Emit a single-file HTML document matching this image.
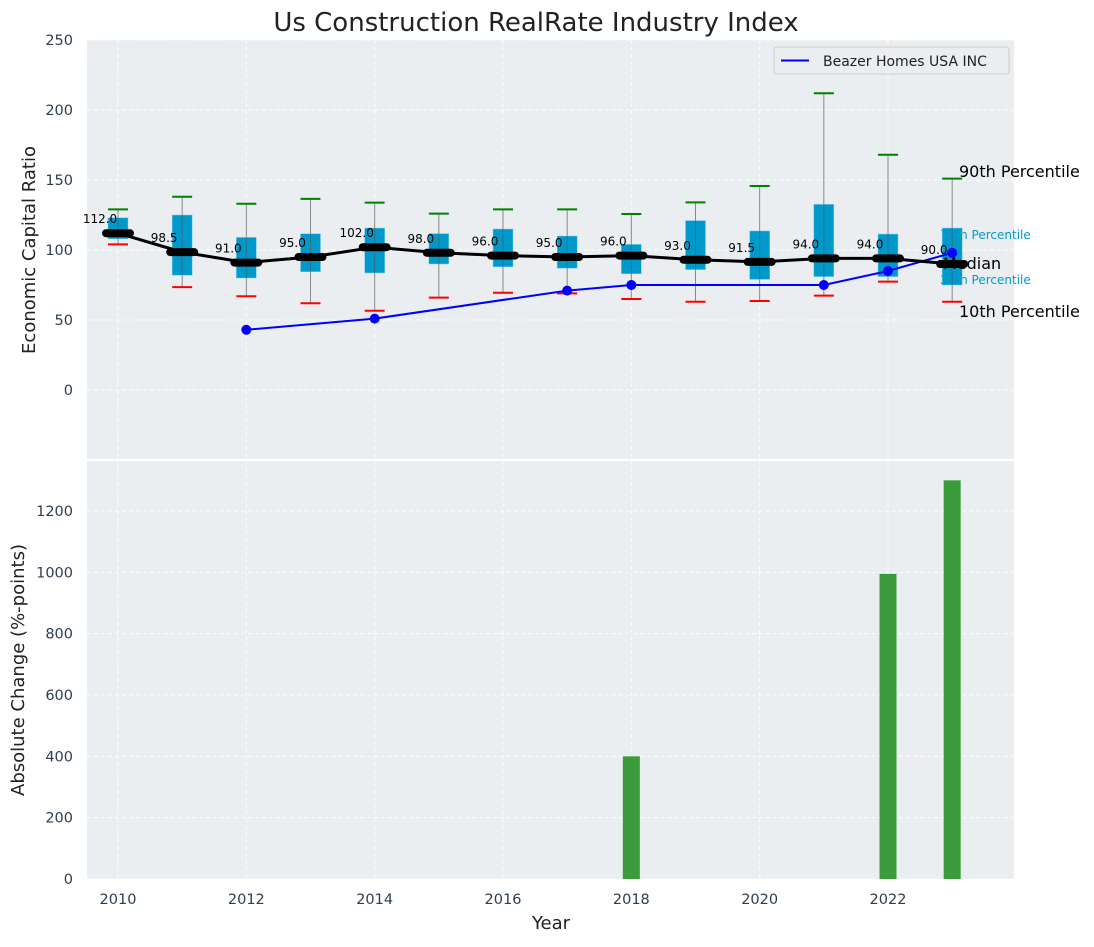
<!DOCTYPE html>
<html><head><meta charset="utf-8"><style>
body{margin:0;background:#fff;font-family:"Liberation Sans","DejaVu Sans",sans-serif}
svg text{font-family:"DejaVu Sans","Liberation Sans",sans-serif}
</style></head><body>
<svg id="c" width="1094" height="942" xmlns="http://www.w3.org/2000/svg"></svg>
<script>
const years=[2010,2011,2012,2013,2014,2015,2016,2017,2018,2019,2020,2021,2022,2023];
const medians=[112,98.5,91,95,102,98,96,95,96,93,91.5,94,94,90];
const q3=[123,125,109,111.6,115.7,111.7,115,110,104,121,113.6,132.6,111.4,115.7];
const q1=[108,82,80,84.5,83.6,90,88,87,83,86,79,81,81,75];
const p90=[129,138,133,136.5,133.8,126,129,129,125.7,134,145.7,212,168,151];
const p10=[104,73.5,67,62,56.6,66,69.5,69,65,63,63.6,67.4,77.4,63];
const compYears=[2012,2014,2017,2018,2021,2022,2023];
const compVals=[43,51,71,75,75,85,98];
const barYears=[2018,2022,2023];
const barVals=[400,995,1300];
const xTicks=[2010,2012,2014,2016,2018,2020,2022];
const yTicksTop=[0,50,100,150,200,250];
const yTicksBot=[0,200,400,600,800,1000,1200];

const NS="http://www.w3.org/2000/svg",svg=document.getElementById('c');
function el(t,a,p){const e=document.createElementNS(NS,t);for(const k in a)e.setAttribute(k,a[k]);(p||svg).appendChild(e);return e;}
function tx(s,a,p){const e=el('text',a,p);e.textContent=s;return e;}
const L=87,R=1014,T1=40,B1=459,T2=461,B2=879;
const x=v=>118+(v-2010)*(888-118)/12;
const y1=v=>390-1.4*v;
const y2=v=>879-v*(368/1200);

let g=el('rect',{x:L,y:T1,width:R-L,height:B1-T1,fill:'#eaeef0'});

g=el('rect',{x:L,y:T2,width:R-L,height:B2-T2,fill:'#eaeef0'});


const grid=el('g',{stroke:'#fff','stroke-dasharray':'4,3','stroke-width':1,opacity:0.9});

xTicks.forEach(t=>{el('line',{x1:x(t),x2:x(t),y1:T1,y2:B1},grid);el('line',{x1:x(t),x2:x(t),y1:T2,y2:B2},grid);});
yTicksTop.forEach(t=>el('line',{x1:L,x2:R,y1:y1(t),y2:y1(t)},grid));
yTicksBot.forEach(t=>el('line',{x1:L,x2:R,y1:y2(t),y2:y2(t)},grid));

const ax=el('g',{fill:'#2c3e50','font-size':14.5});

yTicksTop.forEach(t=>tx(t,{x:73,y:y1(t)+5,'text-anchor':'end'},ax));
yTicksBot.forEach(t=>tx(t,{x:73,y:y2(t)+5,'text-anchor':'end'},ax));
xTicks.forEach(t=>tx(t,{x:x(t),y:904,'text-anchor':'middle'},ax));

const xl=x(2023);
let t;
t=tx('75th Percentile',{x:xl-12,y:y1(q3[13])+11,fill:'#0099cc','font-size':12});
t=tx('25th Percentile',{x:xl-12,y:y1(q1[13])-1,fill:'#0099cc','font-size':12});

const bx=el('g',{});
years.forEach((yr,i)=>{
  const cx=x(yr);
  const w=el('line',{x1:cx,x2:cx,y1:y1(p90[i]),y2:y1(p10[i]),stroke:'#888','stroke-width':1},bx);
  
  const b=el('rect',{x:cx-10,y:y1(q3[i]),width:20,height:y1(q1[i])-y1(q3[i]),fill:'#0099cc',stroke:'#7fcbe5','stroke-width':0.5},bx);
  
  el('line',{x1:cx,x2:cx,y1:y1(q3[i]),y2:y1(q1[i]),stroke:'#555','stroke-width':1,opacity:0.6},bx);
  const h=el('line',{x1:cx-10,x2:cx+10,y1:y1(p90[i]),y2:y1(p90[i]),stroke:'green','stroke-width':2},bx);
  
  const l=el('line',{x1:cx-10,x2:cx+10,y1:y1(p10[i]),y2:y1(p10[i]),stroke:'red','stroke-width':2},bx);
  
});

const cl=el('polyline',{points:compYears.map((yr,i)=>x(yr)+','+y1(compVals[i])).join(' '),fill:'none',stroke:'blue','stroke-width':2});

compYears.forEach((yr,i)=>{const c=el('circle',{cx:x(yr),cy:y1(compVals[i]),r:5,fill:'blue'});
});

const ml=el('polyline',{points:years.map((yr,i)=>x(yr)+','+y1(medians[i])).join(' '),fill:'none',stroke:'#000','stroke-width':3});

const mg=el('g',{});
years.forEach((yr,i)=>{
  el('line',{x1:x(yr)-12,x2:x(yr)+12,y1:y1(medians[i]),y2:y1(medians[i]),stroke:'#000','stroke-width':8,'stroke-linecap':'round'},mg);
  const lb=tx(medians[i].toFixed(1),{x:x(yr)-18,y:y1(medians[i])-10,'text-anchor':'middle','font-size':12,fill:'#000'},mg);
  
});

t=tx('90th Percentile',{x:959,y:177,'font-size':16,fill:'#000'});
t=tx('Median',{x:943,y:269,'font-size':16,fill:'#000'});
t=tx('10th Percentile',{x:959,y:317,'font-size':16,fill:'#000'});

barYears.forEach((yr,i)=>{const b=el('rect',{x:x(yr)-8.5,y:y2(barVals[i]),width:17,height:y2(0)-y2(barVals[i]),fill:'#3a9b3a'});
});

el('line',{x1:L,x2:R,y1:460,y2:460,stroke:'#fff','stroke-width':2});

const lg=el('g',{});
el('rect',{x:774,y:47,width:235,height:27,rx:3,fill:'#eaeef0',stroke:'#ccc'},lg);
el('line',{x1:781,x2:809,y1:60.5,y2:60.5,stroke:'blue','stroke-width':2},lg);
tx('Beazer Homes USA INC',{x:823,y:66,'font-size':14,fill:'#222'},lg);

t=tx('Us Construction RealRate Industry Index',{x:536,y:31,'text-anchor':'middle','font-size':26,fill:'#222'});
t=tx('Economic Capital Ratio',{x:0,y:0,transform:'translate(35,250) rotate(-90)','text-anchor':'middle','font-size':18,fill:'#222'});
t=tx('Absolute Change (%-points)',{x:0,y:0,transform:'translate(24,670) rotate(-90)','text-anchor':'middle','font-size':18,fill:'#222'});
t=tx('Year',{x:551,y:929,'text-anchor':'middle','font-size':18,fill:'#222'});
</script>
</body></html>
